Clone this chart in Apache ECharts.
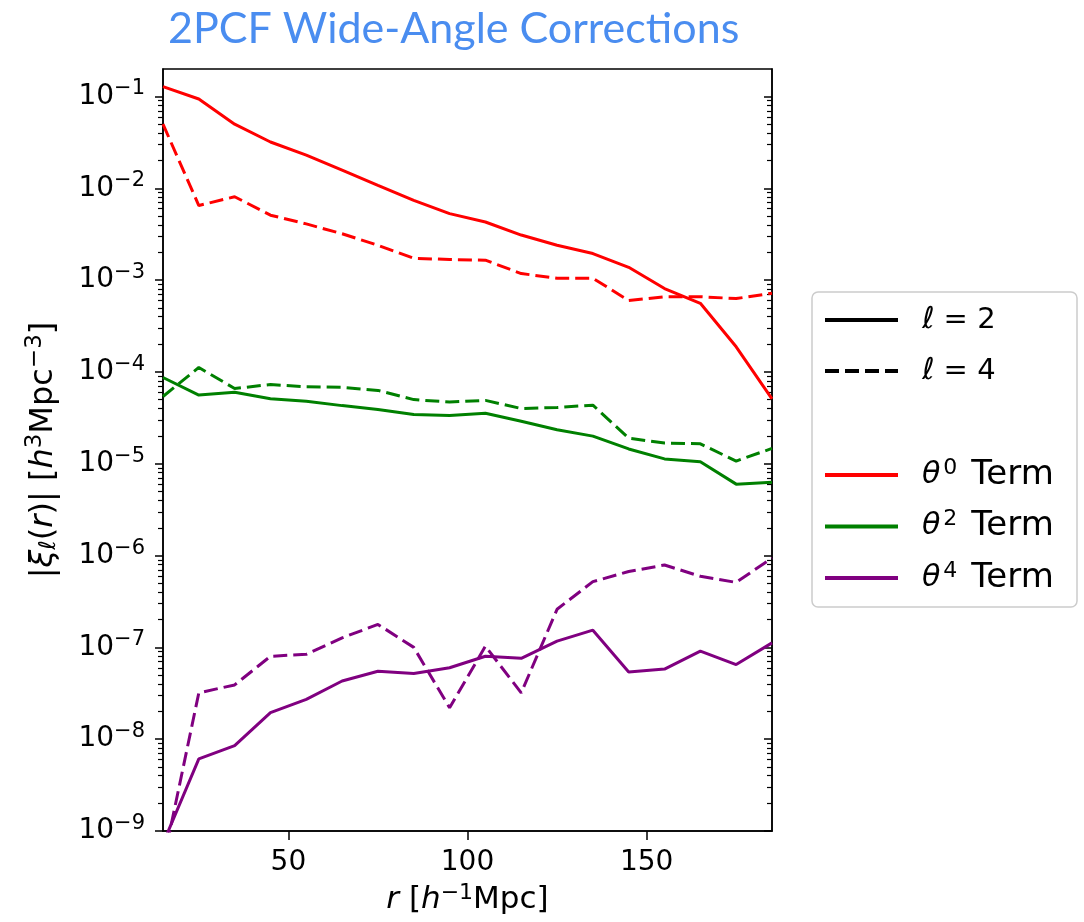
<!DOCTYPE html>
<html><head><meta charset="utf-8">
<script src="https://cdn.jsdelivr.net/npm/echarts@6/dist/echarts.min.js"></script>
<style>html,body{margin:0;padding:0;background:#fff}#c{width:1084px;height:922px}</style>
</head><body><div id="c"></div>
<script>
// ---- data ----
const rValues = [15,25,35,45,55,65,75,85,95,105,115,125,135,145,155,165,175,185];
const theta0_l2 = [0.128,0.094,0.050,0.032,0.023,0.0158,0.0108,0.0074,0.0053,0.0043,0.0031,0.0024,0.00195,0.00138,0.00081,0.00056,0.000188,5.1e-5];
const theta0_l4 = [0.050,0.0065,0.0081,0.0051,0.0041,0.0032,0.0024,0.00173,0.00168,0.00165,0.00118,0.00105,0.00105,0.0006,0.00066,0.00066,0.00063,0.00072];
const theta2_l2 = [8.7e-5,5.6e-5,6.0e-5,5.1e-5,4.8e-5,4.3e-5,3.9e-5,3.45e-5,3.35e-5,3.55e-5,2.9e-5,2.35e-5,2.0e-5,1.45e-5,1.13e-5,1.05e-5,6.0e-6,6.3e-6];
const theta2_l4 = [5.4e-5,1.12e-4,6.6e-5,7.3e-5,6.9e-5,6.8e-5,6.3e-5,5.0e-5,4.7e-5,4.9e-5,4.0e-5,4.1e-5,4.35e-5,1.9e-5,1.68e-5,1.65e-5,1.07e-5,1.47e-5];
const theta4_l2 = [7.3e-10,6.1e-9,8.5e-9,1.95e-8,2.72e-8,4.3e-8,5.5e-8,5.2e-8,6.0e-8,8.0e-8,7.6e-8,1.17e-7,1.54e-7,5.4e-8,5.8e-8,9.1e-8,6.5e-8,1.12e-7];
const theta4_l4 = [4.4e-10,3.2e-8,3.9e-8,8.0e-8,8.4e-8,1.27e-7,1.78e-7,1.0e-7,2.2e-8,1.03e-7,3.2e-8,2.6e-7,5.2e-7,6.7e-7,7.9e-7,5.95e-7,5.1e-7,9.4e-7];
const xTickValues = [50,100,150];
const yMajorTicks = [1e-9,1e-8,1e-7,1e-6,1e-5,1e-4,1e-3,1e-2,1e-1];
const yMinorMultipliers = [2,3,4,5,6,7,8,9];
const xMin = 15, xMax = 185, yMin = 1e-9, yMax = Math.pow(10,-0.7);

// ---- build ----
const yMinorTicks = [];
for (let e = -9; e <= -1; e++) {
  yMinorMultipliers.forEach(m => { const v = m * Math.pow(10, e); if (v < yMax) yMinorTicks.push(v); });
}
const pairs = arr => rValues.map((x, i) => [x, arr[i]]);
const FONT = 'DejaVu Sans';
const RED = '#ff0000', GREEN = '#008000', PURPLE = '#800080';
const DASH = [14, 6];

function yAxis(pos, major) {
  return {
    type: 'log', logBase: 10, min: yMin, max: yMax, position: pos, offset: 0,
    axisLine: { show: major, lineStyle: { color: '#000', width: 1.5 } },
    axisTick: { show: true, inside: pos === 'right', customValues: major ? yMajorTicks : yMinorTicks,
                length: major ? 8 : 5, lineStyle: { color: '#000', width: major ? 1.5 : 1.2 } },
    axisLabel: major && pos === 'left' ? {
      show: true, customValues: yMajorTicks, margin: 18,
      formatter: v => { const e = Math.round(Math.log10(v)); return '{b|10}{s|' + (e < 0 ? '\u2212' : '') + Math.abs(e) + '}'; },
      rich: { b: { fontSize: 28, fontFamily: FONT, color: '#000', lineHeight: 32 },
              s: { fontSize: 21, fontFamily: FONT, color: '#000', lineHeight: 21, padding: [0, 0, 15, 0] } }
    } : { show: false },
    splitLine: { show: false }, minorTick: { show: false },
    name: major && pos === 'left' ? '|{i|\u03be}{sub|\u2113}({i|r})| [{i|h}{sup|3}Mpc{sup|\u22123}]' : '',
    nameLocation: 'middle', nameGap: 100,
    nameTextStyle: { fontSize: 32, fontFamily: FONT, color: '#000',
      rich: { i: { fontSize: 32, fontFamily: FONT, fontStyle: 'italic', color: '#000' },
              sub: { fontSize: 23, fontFamily: FONT, fontStyle: 'italic', color: '#000', padding: [11, 0, 0, 0] },
              sup: { fontSize: 23, fontFamily: FONT, color: '#000', padding: [0, 0, 16, 0] } } }
  };
}

function line(name, arr, color, dashed) {
  return { name, type: 'line', data: pairs(arr), yAxisIndex: 0, symbol: 'none', showSymbol: false,
           lineStyle: { color, width: 3, type: dashed ? DASH : 'solid' }, itemStyle: { color }, clip: true, animation: false };
}

const legendText = {
  fontSize: 29, fontFamily: FONT, color: '#000', padding: [0, 0, 0, 19],
  rich: { i: { fontSize: 30, fontFamily: FONT, fontStyle: 'italic', color: '#000', lineHeight: 30 },
          n: { fontSize: 29, fontFamily: FONT, color: '#000', lineHeight: 30 },
          t: { fontSize: 34, fontFamily: FONT, color: '#000', lineHeight: 30, padding: [0, 0, 0, 14] },
          sup: { fontSize: 22, fontFamily: FONT, color: '#000', lineHeight: 22, padding: [0, 0, 14, 3] } }
};
const legendNames = { l2: '{i|\u2113}{n| = 2}', l4: '{i|\u2113}{n| = 4}',
  t0: '{i|\u03b8}{sup|0}{t|Term}', t2: '{i|\u03b8}{sup|2}{t|Term}', t4: '{i|\u03b8}{sup|4}{t|Term}' };
const legendCommon = { orient: 'vertical', left: 823, itemWidth: 73, itemHeight: 14,
  formatter: n => legendNames[n], textStyle: legendText, itemStyle: { opacity: 0 },
  lineStyle: { width: 4 }, selectedMode: false, padding: 0 };

const option = {
  backgroundColor: '#fff',
  animation: false,
  title: { text: '2PCF Wide-Angle Corrections', left: 168, top: 8, padding: 0,
           textStyle: { fontFamily: 'Lato', fontSize: 43, fontWeight: 'normal', color: '#4a8df0' } },
  graphic: [{ type: 'rect', shape: { x: 812, y: 292, width: 265, height: 315, r: 6 }, z: -10,
              style: { fill: '#fff', stroke: '#cccccc', lineWidth: 1.5 } }],
  grid: { left: 163, right: 312, top: 69, bottom: 91, show: true, borderColor: '#000', borderWidth: 1.5, backgroundColor: 'transparent' },
  legend: [
    Object.assign({}, legendCommon, { top: 305, itemGap: 21, data: ['l2', 'l4'] }),
    Object.assign({}, legendCommon, { top: 457, itemGap: 15.5, data: ['t0', 't2', 't4'] })
  ],
  xAxis: {
    type: 'value', min: xMin, max: xMax,
    axisLine: { show: true, lineStyle: { color: '#000', width: 1.5 } },
    axisTick: { show: true, customValues: xTickValues, length: 9, lineStyle: { color: '#000', width: 1.5 } },
    axisLabel: { show: true, customValues: xTickValues, margin: 18, fontSize: 28, fontFamily: FONT, color: '#000' },
    splitLine: { show: false },
    name: '{i|r} [{i|h}{sup|\u22121}Mpc]', nameLocation: 'middle', nameGap: 47,
    nameTextStyle: { fontSize: 31, fontFamily: FONT, color: '#000', verticalAlign: 'top',
      rich: { i: { fontSize: 31, fontFamily: FONT, fontStyle: 'italic', color: '#000' },
              sup: { fontSize: 22, fontFamily: FONT, color: '#000', padding: [0, 0, 15, 0] } } }
  },
  yAxis: [yAxis('left', true), yAxis('left', false), yAxis('right', true), yAxis('right', false)],
  series: [
    line('t0', theta0_l2, RED, false),
    line('t0', theta0_l4, RED, true),
    line('t2', theta2_l2, GREEN, false),
    line('t2', theta2_l4, GREEN, true),
    line('t4', theta4_l2, PURPLE, false),
    line('t4', theta4_l4, PURPLE, true),
    line('l2', [], '#000', false),
    line('l4', [], '#000', true)
  ]
};
const chart = echarts.init(document.getElementById('c'));
chart.setOption(option);
</script></body></html>
